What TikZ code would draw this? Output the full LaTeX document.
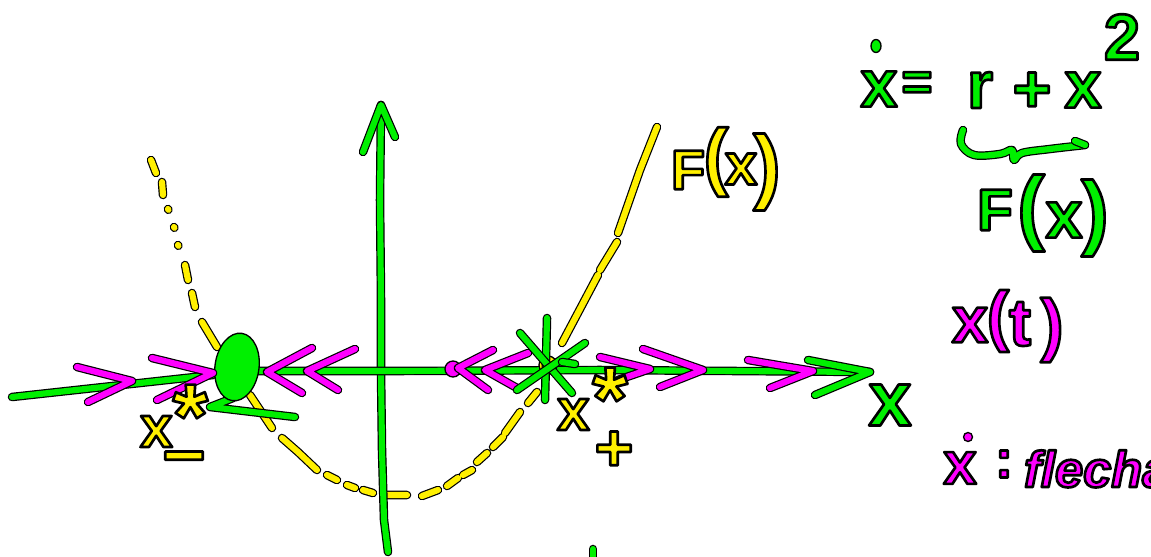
\documentclass[tikz,border=0pt]{standalone}
\usepackage{fontspec}
\setmainfont{Liberation Sans}
\definecolor{pgreen}{RGB}{0,240,0}
\definecolor{pyellow}{RGB}{255,240,0}
\definecolor{pmag}{RGB}{255,0,255}
\newcommand{\hw}[2]{{\fontsize{#1}{#1}\selectfont\special{pdf:literal direct 2 Tr 2 w 1 j 0 G}#2\special{pdf:literal direct 0 Tr}}}
\tikzset{
  pen/.style={draw=#1, line width=4.6pt, line cap=round, line join=round,
    preaction={draw=black, line width=6.4pt, line cap=round, line join=round}},
  blob/.style={fill=#1, draw=black, line width=1pt},
  lbl/.style={inner sep=0pt, outer sep=0pt, font=\bfseries},
}
\begin{document}
\begin{tikzpicture}[x=0.75pt,y=-0.75pt]
\path[use as bounding box, clip] (0,0) rectangle (1151,556);
\fill[white] (0,0) rectangle (1151,556);

% parabola F(x), dashed by hand
\draw[pen=pyellow]
  (151,160)--(156,173) (162,182)--(163,195)
  (168,209)--(168.4,209.8) (174,227)--(174.4,227.8) (178,245)--(178.4,245.8)
  (185,265)--(188,280) (192,293)--(195,307) (202,322)--(217,347)
  (250,395)--(272,428) (282,438)--(298,452)--(317,470)
  (327,475)--(337,480) (347,485)--(355,488) (363,490)--(373,493)
  (387,495)--(407,495) (422,496)--(438,490) (447,486)--(458,478)
  (463,475)--(472,470) (477,462)--(487,453) (493,447)--(503,437)
  (505,433)--(520,412) (528,403)--(537,392)
  (562,343)--(598,275) (600,270)--(617,242) (618,233)--(640,170)--(657,127);

% axes
\draw[pen=pgreen] (381,105) -- (380,200) -- (381,300) -- (381,372) -- (382,450) -- (384,520) -- (388,552);
\draw[pen=pgreen] (363,152) -- (381,105) -- (395,137);
\draw[pen=pgreen] (12,397) -- (213,375);
\draw[pen=pgreen] (258,371) -- (400,371) -- (600,370) -- (870,372);

% left fixed point
\draw[pen=pgreen] (233,398) -- (210,407) -- (295,417);
\filldraw[blob=pgreen] (237,367) ellipse [x radius=22, y radius=34, rotate=-8];

% magenta flow arrows
\draw[pen=pmag] (77,367) -- (132,381) -- (88,402);
\draw[pen=pmag] (152,358) -- (213,373) -- (157,400);
\draw[pen=pmag] (312,348) -- (267,372) -- (302,393);
\draw[pen=pmag] (355,349) -- (307,371) -- (338,390);
\filldraw[blob=pmag] (453,369) circle [radius=8];
\draw[pen=pmag] (493,350) -- (458,368) -- (488,390);
\draw[pen=pmag] (528,353) -- (485,370) -- (517,388);
\draw[pen=pmag] (600,357) -- (650,369) -- (618,380);
\draw[pen=pmag] (643,349) -- (703,370) -- (660,387);
\draw[pen=pmag] (748,360) -- (813,371) -- (770,388);
\draw[pen=pgreen] (808,360) -- (870,372) -- (815,395);

% right fixed point
\filldraw[blob=pyellow] (548,365) circle [radius=9];
\draw[pen=pgreen] (547,318) -- (545,400);
\draw[pen=pgreen] (520,333) -- (572,393);
\draw[pen=pgreen] (585,343) -- (517,390);
\draw[pen=pgreen] (562,362) -- (575,364);

% labels near fixed points
\node[lbl, text=pyellow, anchor=base west] (xsm) at (140,447) {\hw{44}{x}\hw{68}{*}};
\node[lbl, text=pyellow] (mm) at (184,466) {\hw{56}{−}};
\node[lbl, text=pyellow, anchor=base west] (xsp) at (557,430) {\hw{44}{x}\kern2pt\hw{68}{*}};
\node[lbl, text=pyellow] (pp) at (614,451) {\hw{50}{+}};

% yellow F(x)
\node[lbl, text=pyellow] (yF) at (688,170) {\hw{42}{F}};
\node[lbl, text=pyellow] (yl) at (716,162) {\hw{56}{(}};
\node[lbl, text=pyellow] (yx) at (741,169) {\hw{44}{x}};
\node[lbl, text=pyellow] (yr) at (767,172) {\hw{62}{)}};

% axis label
\node[lbl, text=pgreen] (ax) at (890,405) {\hw{58}{x}};

% equation
\filldraw[blob=pgreen] (876,46) ellipse [x radius=5, y radius=6.5];
\node[lbl, text=pgreen] (ex) at (879,89) {\hw{50}{x}};
\node[lbl, text=pgreen] (eq) at (917,86) {\hw{40}{=}};
\node[lbl, text=pgreen] (er) at (980,90) {\hw{50}{r}};
\node[lbl, text=pgreen] (ep) at (1032,92) {\hw{50}{+}};
\node[lbl, text=pgreen] (ex2) at (1083,90) {\hw{50}{x}};
\node[lbl, text=pgreen] (e2) at (1122,37) {\hw{49}{2}};
\draw[pen=pgreen] plot[smooth, tension=0.6] coordinates {(963,130) (961,144) (974,155) (1000,154) (1012,150) (1014,160) (1022,153) (1050,149) (1085,145)};
\draw[pen=pgreen] (1085,145) -- (1075,141);

% green F(x)
\node[lbl, text=pgreen] (gF) at (995,210) {\hw{44}{F}};
\node[lbl, text=pgreen] (gl) at (1031,213) {\hw{62}{(}};
\node[lbl, text=pgreen] (gx) at (1064,220) {\hw{50}{x}};
\node[lbl, text=pgreen] (gr) at (1095,218) {\hw{62}{)}};

% x(t)
\node[lbl, text=pmag] (tx) at (970,325) {\hw{49}{x}};
\node[lbl, text=pmag] (tl) at (998,321) {\hw{50}{(}};
\node[lbl, text=pmag] (tt) at (1020,324) {\hw{50}{t}};
\node[lbl, text=pmag] (tr) at (1052,330) {\hw{52}{)}};

% xdot : flechas
\filldraw[blob=pmag] (968,437) circle [radius=4.5];
\node[lbl, text=pmag] (fx) at (960,468) {\hw{45}{x}};
\node[lbl, text=pmag] (fc) at (1004,464) {\hw{40}{:}};
\node[lbl, text=pmag, anchor=base west, font=\bfseries\itshape] (fw) at (1024,487) {\hw{38}{flechas}};

% cut mark at bottom
\draw[pen=pgreen] (593,549) -- (593,562);
\end{tikzpicture}
\end{document}
